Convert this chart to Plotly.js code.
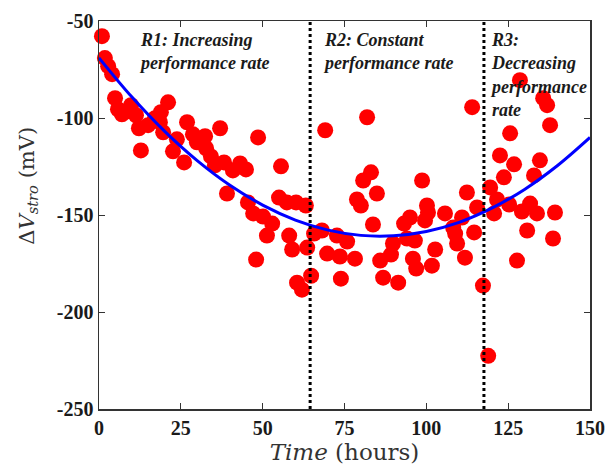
<!DOCTYPE html>
<html>
<head>
<meta charset="utf-8">
<script src="https://cdn.plot.ly/plotly-3.0.1.min.js"></script>
<style>html,body{margin:0;padding:0;background:#fff;}#chart{width:607px;height:466px;}</style>
</head>
<body>
<div id="chart"></div>
<script>
// Measured points: time (hours) and ΔV_stro (mV)
var timeHours = [
  0.9, 1.8, 2.8, 4.0, 4.9, 5.8, 7.0, 8.9, 9.8, 11.3, 12.2, 12.8, 15.0, 17.1, 18.9, 18.6, 19.6,
  21.1, 22.6, 23.8, 26.0, 26.9, 28.7, 29.9, 32.4, 32.7, 34.2, 35.4, 37.0, 38.2, 40.9, 43.1,
  44.9, 48.6, 39.1, 45.5, 47.1, 50.1, 52.9, 51.3, 55.0, 55.6, 57.4, 60.2, 63.2, 58.1, 59.0,
  63.6, 48.0, 60.5, 62.0, 64.8, 65.7, 68.1, 69.7,
  69.1, 81.9, 83.1, 80.7, 84.9, 78.8, 80.0, 83.7, 72.7, 75.8, 73.6, 78.2, 73.9, 85.9, 89.2,
  86.8, 91.4, 89.8, 93.2, 95.0, 94.1, 96.5, 95.9, 96.9, 98.7, 100.2, 99.6, 100.5, 105.7,
  108.2, 108.8, 109.4, 110.9, 102.7, 101.7, 111.8, 112.4, 114.0, 114.6, 115.5,
  117.3, 118.9, 119.5, 120.7, 121.6, 122.5, 123.7, 125.3, 125.6, 126.8, 127.7, 128.6, 129.2,
  130.8, 131.7, 132.9, 133.8, 134.7, 135.7, 136.9, 137.8, 139.3, 138.7
];
var deltaV = [
  -57.8, -69.1, -73.3, -77.4, -89.8, -95.5, -98.1, -96.5, -93.4, -98.6, -105.3, -116.7, -103.7, -100.1, -97.0, -102.2, -107.4,
  -91.9, -117.2, -111.0, -122.9, -102.2, -108.4, -112.5, -109.4, -115.6, -119.8, -124.4, -105.3, -122.9, -127.0, -123.4,
  -126.5, -110.0, -138.9, -143.5, -149.2, -150.8, -154.4, -160.6, -141.0, -124.9, -143.5, -143.5, -145.1, -160.6, -167.8,
  -166.8, -173.0, -184.9, -188.5, -181.3, -159.6, -158.0, -169.9,
  -106.3, -99.6, -128.0, -132.2, -138.9, -142.0, -145.1, -154.9, -160.6, -163.7, -171.4, -172.5, -182.8, -173.5, -170.4,
  -182.3, -184.9, -164.7, -154.4, -151.3, -162.1, -163.2, -172.5, -177.6, -132.2, -145.1, -152.8, -148.7, -149.2,
  -156.5, -159.6, -164.7, -151.3, -167.8, -176.1, -172.0, -138.4, -94.4, -159.0, -146.1,
  -186.4, -222.6, -135.8, -149.2, -142.0, -119.3, -130.6, -144.6, -107.9, -123.9, -173.5, -80.5, -148.2,
  -158.0, -144.1, -129.6, -149.2, -121.8, -89.8, -93.4, -103.7, -148.7, -162.1
];
// Fitted trend curve
var fitTime  = [0, 10, 20, 30, 40, 50, 60, 70, 80, 90, 100, 110, 120, 130, 140, 150];
var fitValue = [-69.0, -89.1, -106.8, -122.0, -134.7, -144.9, -152.6, -157.8, -160.5, -160.7, -158.5, -153.8, -146.5, -136.8, -124.6, -110.0];
// Region boundaries (hours) and labels
var regionBounds = [64.5, 117.6];
var regionStarts = [11.6, 67.8, 118.9];
var regionLabels = [
  "R1: Increasing<br>performance rate",
  "R2: Constant<br>performance rate",
  "R3:<br>Decreasing<br>performance<br>rate"
];
var xTicks = [0, 25, 50, 75, 100, 125, 150];
var yTicks = [-250, -200, -150, -100, -50];

var SERIF = '"Liberation Serif", "Times New Roman", Times, serif';

var traces = [
  {x: timeHours, y: deltaV, type: 'scatter', mode: 'markers', cliponaxis: false,
   marker: {color: '#ff0000', size: 16, line: {width: 0}}, hoverinfo: 'x+y'},
  {x: fitTime, y: fitValue, type: 'scatter', mode: 'lines',
   line: {color: '#0000ff', width: 3, shape: 'spline'}}
];

var shapes = regionBounds.map(function (b) {
  return {type: 'line', xref: 'x', yref: 'paper', x0: b, x1: b, y0: 0, y1: 1,
          line: {color: '#000000', width: 3, dash: 'dot'}};
});

var annotations = regionStarts.map(function (xs, i) {
  return {x: xs, y: -53.5, xref: 'x', yref: 'y', xanchor: 'left', yanchor: 'top',
          text: '<b><i>' + regionLabels[i] + '</i></b>', showarrow: false, align: 'left',
          font: {family: SERIF, size: 18, color: '#1a1a1a'}};
});
annotations.push({
  xref: 'paper', yref: 'paper', x: -0.145, y: 0.575, xanchor: 'center', yanchor: 'middle',
  textangle: -90, showarrow: false,
  text: 'Δ<i>V</i><sub><i>stro</i></sub> (mV)',
  font: {family: 'DejaVu Serif', size: 21, color: '#333333'}
});

var layout = {
  width: 607, height: 466,
  margin: {l: 99, r: 17, t: 21, b: 57},
  paper_bgcolor: '#ffffff', plot_bgcolor: '#ffffff',
  showlegend: false,
  xaxis: {
    range: [0, 150], tickvals: xTicks, ticktext: xTicks.map(function (v) { return '<b>' + v + '</b>'; }),
    ticks: 'inside', ticklen: 6, tickcolor: '#333333',
    showline: true, linecolor: '#333333', linewidth: 1.5, mirror: 'ticks',
    showgrid: false, zeroline: false,
    tickfont: {family: SERIF, size: 20, color: '#1a1a1a'},
    title: {text: '<i>Time</i> (hours)', standoff: 6,
            font: {family: 'DejaVu Serif', size: 23, color: '#333333'}}
  },
  yaxis: {
    range: [-250, -50], tickvals: yTicks, ticktext: yTicks.map(function (v) { return '<b>' + v + '</b>'; }),
    ticks: 'inside', ticklen: 6, tickcolor: '#333333',
    showline: true, linecolor: '#333333', linewidth: 1.5, mirror: 'ticks',
    showgrid: false, zeroline: false,
    tickfont: {family: SERIF, size: 20, color: '#1a1a1a'}
  },
  shapes: shapes,
  annotations: annotations
};

Plotly.newPlot('chart', traces, layout, {displayModeBar: false, staticPlot: true});
</script>
</body>
</html>
